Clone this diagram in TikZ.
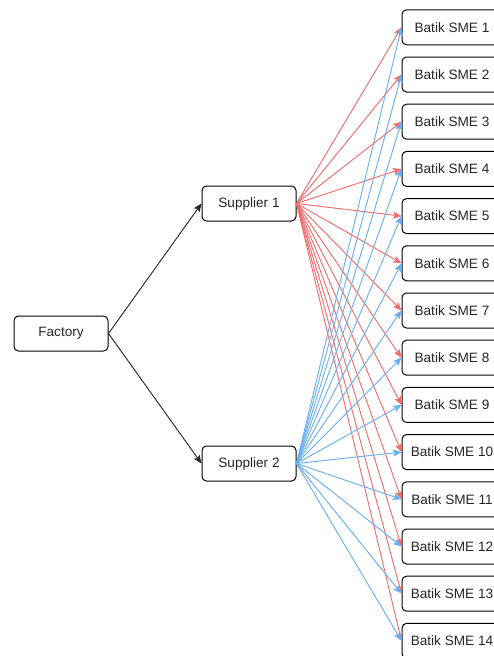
\documentclass[tikz,border=0pt]{standalone}
\usepackage{fontspec}
\setmainfont{Liberation Sans}
\usetikzlibrary{arrows.meta}
\definecolor{edgered}{HTML}{F26B6B}
\definecolor{edgeblue}{HTML}{6AAEF2}
\definecolor{txt}{HTML}{262626}
\tikzset{
  box/.style={draw=black, line width=1pt, rounded corners=4.5pt, minimum width=94pt, minimum height=35pt, inner sep=0pt, font=\fontsize{13.6}{15}\selectfont, text=txt, fill=white},
  smebox/.style={box, minimum width=100pt},
  arr/.style={line width=0.9pt, -{Stealth[length=8.5pt, width=7pt, inset=2pt]}},
  redarr/.style={arr, draw=edgered, fill=edgered},
  bluearr/.style={arr, draw=edgeblue, fill=edgeblue},
  blackarr/.style={arr, draw=black!85, fill=black!85}
}
\begin{document}
\begin{tikzpicture}[x=1pt,y=-1pt]
\useasboundingbox (0,0) rectangle (494,656);
\clip (0,0) rectangle (494,656);
\node[box] (fac) at (61,333.5) {Factory};
\node[box] (sup1) at (249,203.5) {Supplier 1};
\node[box] (sup2) at (249,463.5) {Supplier 2};
\foreach \i in {1,...,14} {
  \node[smebox] (sme\i) at (452,{27.3+(\i-1)*47.2}) {Batik SME \i};
}
\draw[blackarr] (fac.east) -- (sup1.west);
\draw[blackarr] (fac.east) -- (sup2.west);
\foreach \i in {1,...,14} {
  \draw[redarr] (sup1.east) -- (sme\i.west);
}
\foreach \i in {1,...,14} {
  \draw[bluearr] (sup2.east) -- (sme\i.west);
}
\end{tikzpicture}
\end{document}
